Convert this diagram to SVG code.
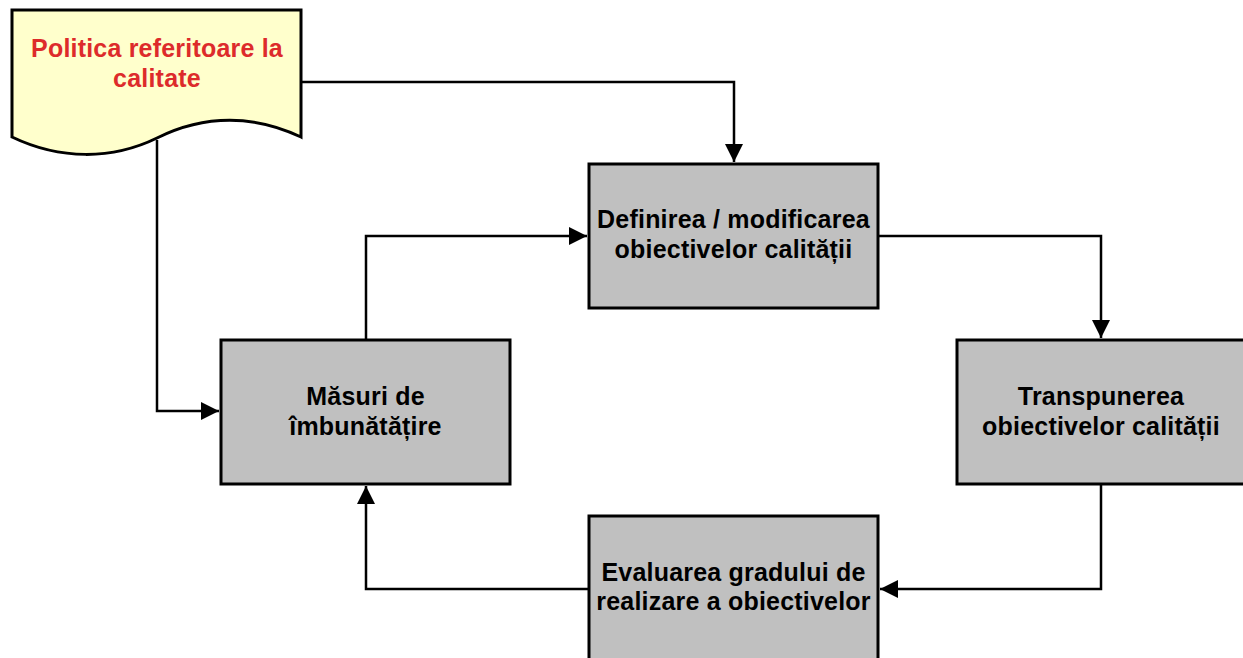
<svg xmlns="http://www.w3.org/2000/svg" width="1243" height="658" viewBox="0 0 1243 658">
<style>
.box{fill:#C0C0C0;stroke:#000;stroke-width:3}
.doc{fill:#FFFFCC;stroke:#000;stroke-width:3}
.t{font-family:"Liberation Sans",Arial,sans-serif;font-weight:bold;font-size:25px;letter-spacing:0.2px;fill:#000;text-anchor:middle}
.r{fill:#DD2B2B}
.c{fill:none;stroke:#000;stroke-width:2.5}
</style>
<defs>
<marker id="ah" markerUnits="userSpaceOnUse" markerWidth="20" markerHeight="20" refX="18" refY="9" orient="auto">
<path d="M0,0 L18,9 L0,18 Z" fill="#000"/>
</marker>
</defs>
<rect width="1243" height="658" fill="#fff"/>
<g id="connectors">
<path class="c" d="M301,82 H734 V162" marker-end="url(#ah)"/>
<path class="c" d="M157,140 V411 H219" marker-end="url(#ah)"/>
<path class="c" d="M366,340 V236 H587" marker-end="url(#ah)"/>
<path class="c" d="M878,236 H1101 V338" marker-end="url(#ah)"/>
<path class="c" d="M1101,484 V589 H880" marker-end="url(#ah)"/>
<path class="c" d="M589,589 H366 V486" marker-end="url(#ah)"/>
</g>
<g id="politica">
<path class="doc" d="M12,10 H301 V137 C255,115 205,114 157,138 C112,160 60,160 12,137 Z"/>
<text class="t r" x="157" y="57">Politica referitoare la</text>
<text class="t r" x="157" y="87">calitate</text>
</g>
<g id="definirea">
<rect class="box" x="589" y="164" width="289" height="144"/>
<text class="t" x="733.5" y="228">Definirea / modificarea</text>
<text class="t" x="733.5" y="258">obiectivelor calității</text>
</g>
<g id="transpunerea">
<rect class="box" x="957" y="340" width="289" height="144"/>
<text class="t" x="1101" y="405">Transpunerea</text>
<text class="t" x="1101" y="435">obiectivelor calității</text>
</g>
<g id="evaluarea">
<rect class="box" x="589" y="516" width="289" height="160"/>
<text class="t" x="733.5" y="581">Evaluarea gradului de</text>
<text class="t" x="733.5" y="610">realizare a obiectivelor</text>
</g>
<g id="masuri">
<rect class="box" x="221" y="340" width="289" height="144"/>
<text class="t" x="365.5" y="405">Măsuri de</text>
<text class="t" x="365.5" y="435">îmbunătățire</text>
</g>
</svg>
